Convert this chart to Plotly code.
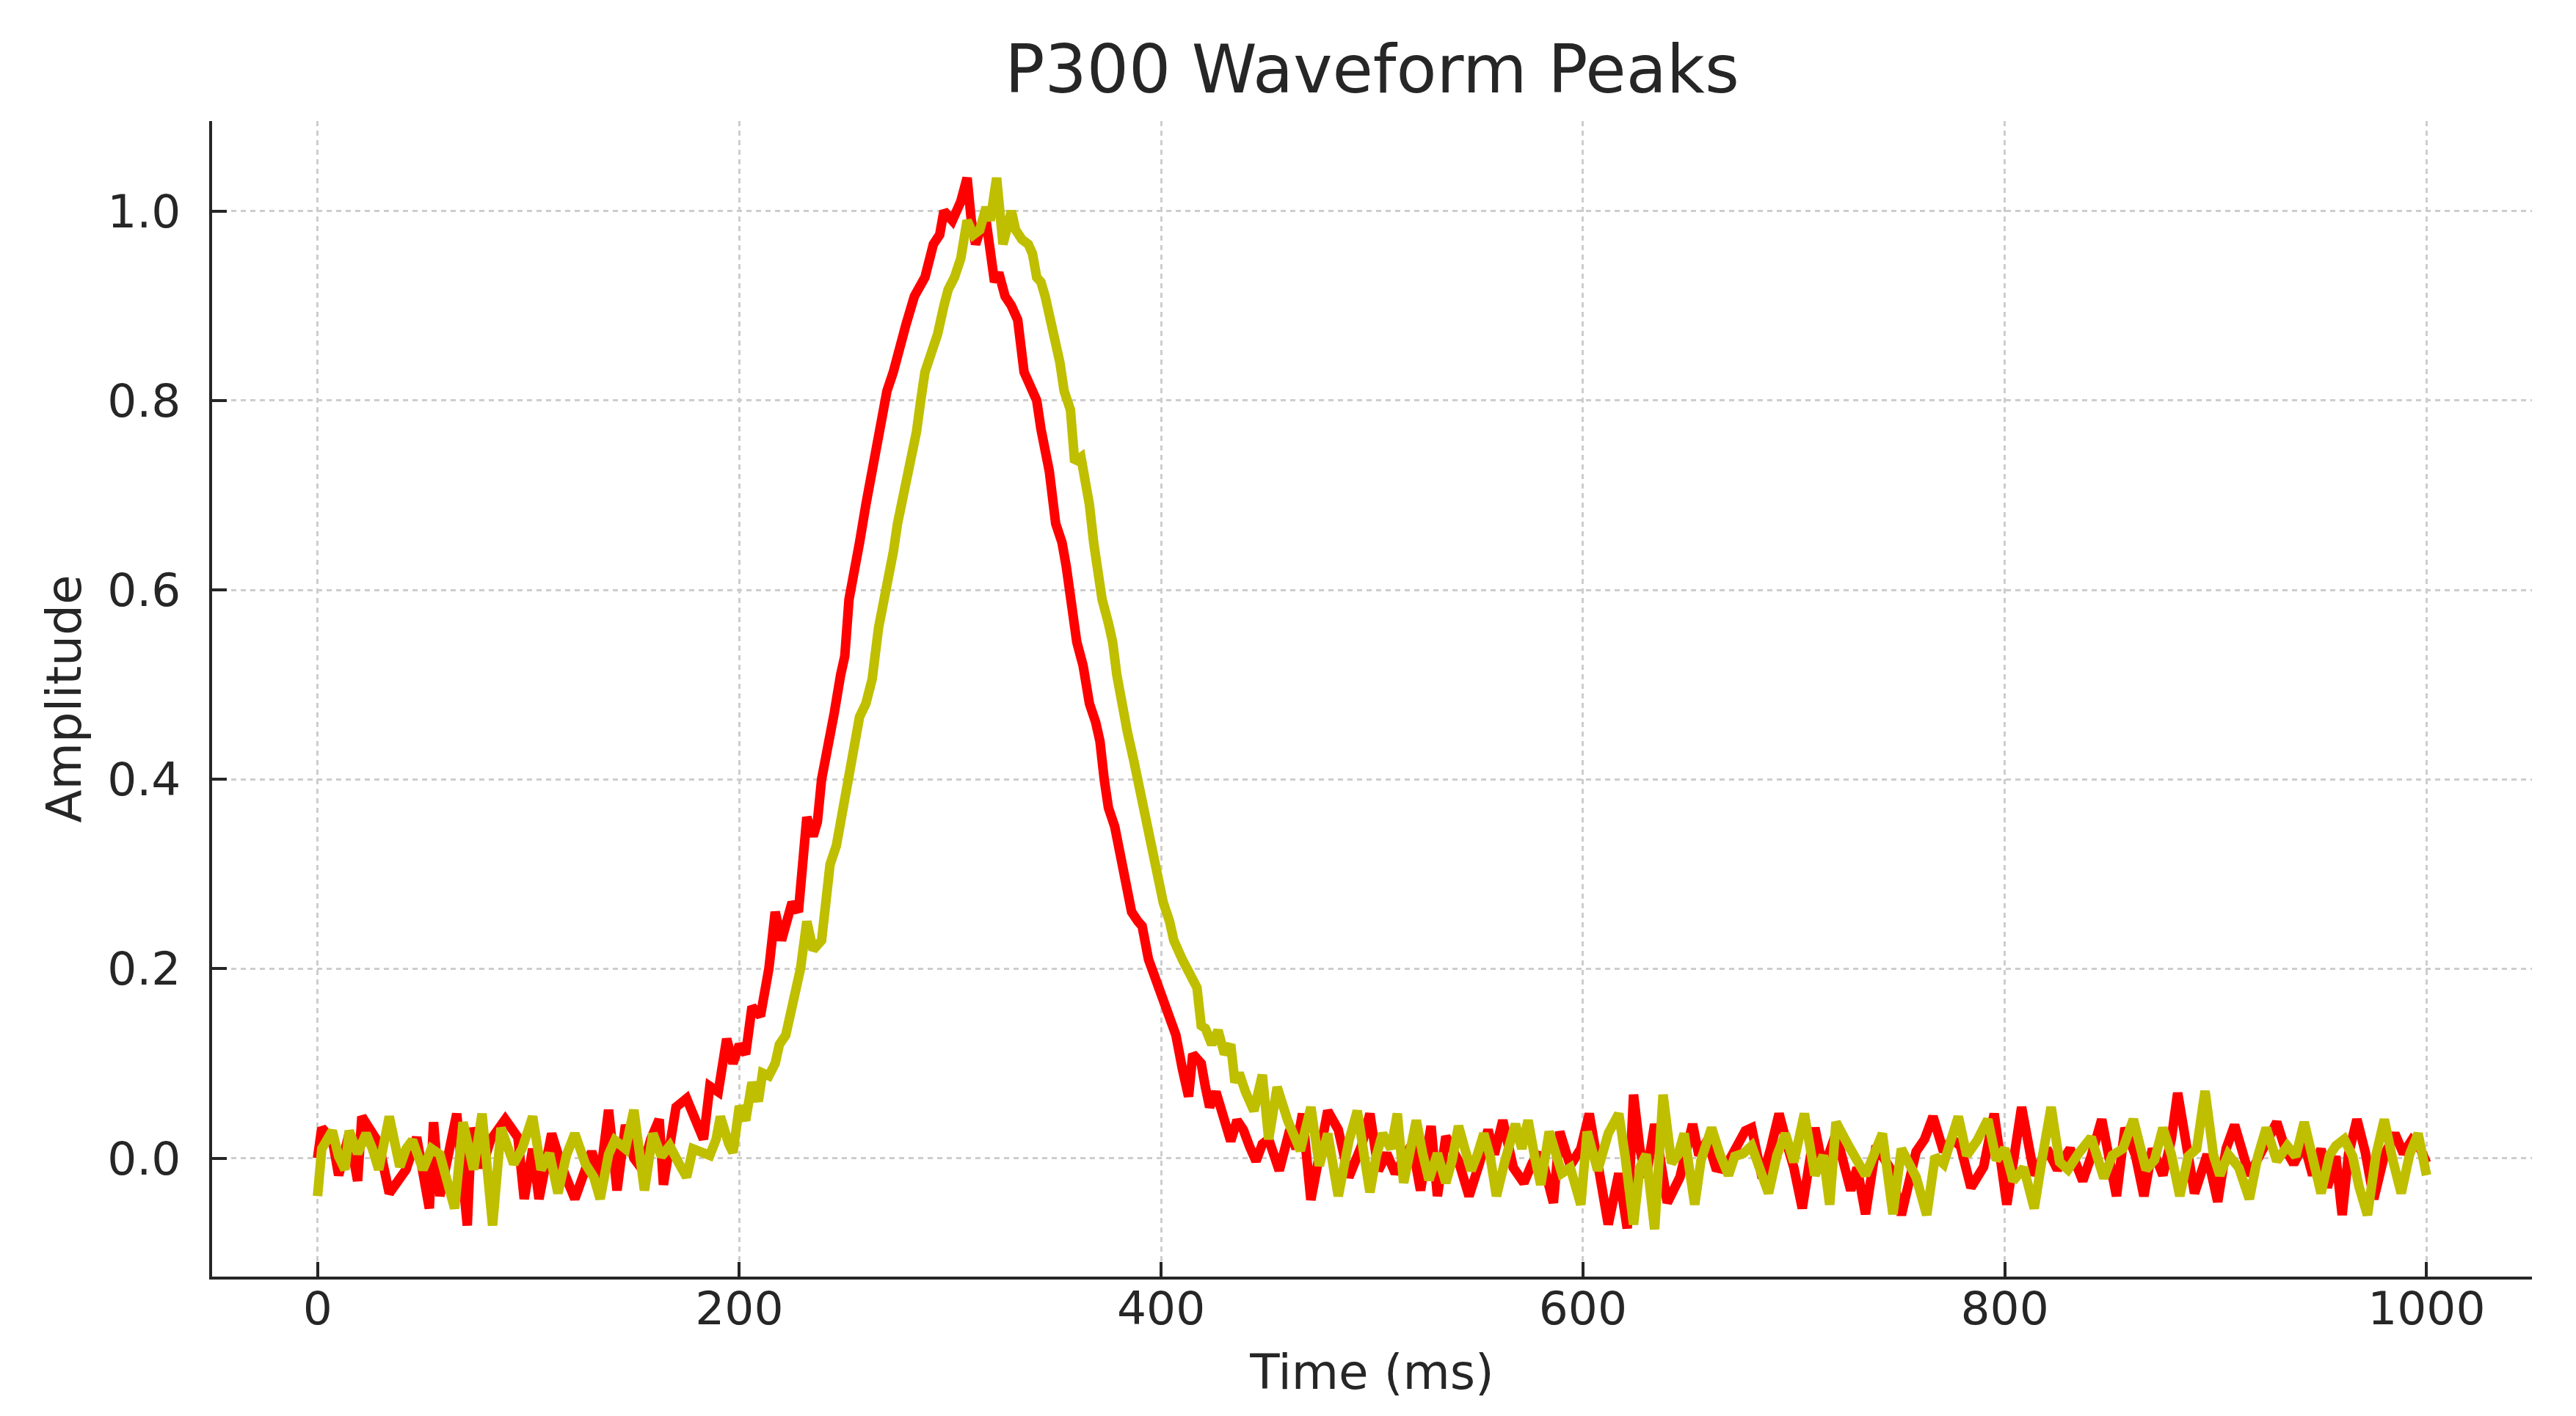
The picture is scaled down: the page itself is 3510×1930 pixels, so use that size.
import plotly.graph_objects as go

# Red waveform (time in ms, amplitude)
red_t = [0, 2, 7, 10, 15, 19, 21, 29, 34, 42,
         47, 53, 55, 58, 66, 71, 73, 78, 82, 89,
         95, 98, 102, 105, 111, 116, 122, 130, 134, 138,
         142, 146, 150, 154, 158, 162, 164, 170, 175, 179,
         183, 186, 190, 194, 197, 200, 203, 206, 210, 214,
         217, 220, 225, 228, 230, 232, 235, 237, 239, 242,
         245, 248, 250, 252, 255, 257, 260, 263, 266, 270,
         273, 275, 279, 283, 288, 292, 295, 297, 301, 305,
         308, 310, 312, 315, 317, 321, 323, 326, 329, 332,
         335, 338, 341, 343, 345, 347, 350, 353, 355, 358,
         360, 363, 366, 369, 371, 373, 375, 378, 381, 384,
         386, 389, 391, 394, 397, 400, 403, 407, 410, 413,
         415, 419, 421, 423, 426, 429, 433, 436, 439, 442,
         445, 448, 451, 456, 461, 464, 467, 471, 475, 479,
         484, 489, 495, 499, 503, 507, 511, 515, 519, 523,
         528, 531, 535, 541, 546, 551, 555, 558, 562, 567,
         572, 576, 580, 586, 589, 594, 599, 603, 608, 612,
         617, 621, 624, 627, 630, 634, 640, 646, 652, 655,
         659, 663, 667, 672, 677, 680, 685, 689, 693, 697,
         700, 704, 710, 714, 720, 727, 730, 734, 739, 746,
         751, 758, 762, 766, 771, 775, 779, 784, 790, 795,
         801, 808, 814, 820, 825, 831, 837, 841, 846, 853,
         857, 862, 866, 870, 875, 879, 882, 886, 890, 896,
         901, 905, 909, 916, 922, 929, 933, 937, 942, 946,
         950, 953, 957, 960, 963, 967, 971, 975, 980, 985,
         989, 993, 997, 1000]
red_v = [0.0, 0.032, 0.02, -0.018, 0.026, -0.024, 0.044, 0.016, -0.037, -0.012,
         0.022, -0.053, 0.038, -0.04, 0.047, -0.071, 0.032, -0.01, 0.019, 0.041,
         0.022, -0.043, 0.01, -0.043, 0.026, -0.01, -0.043, 0.007, -0.02, 0.051,
         -0.034, 0.035, 0.0, -0.012, 0.02, 0.041, -0.028, 0.054, 0.063, 0.04,
         0.02, 0.076, 0.07, 0.126, 0.1, 0.12, 0.11, 0.16, 0.15, 0.2,
         0.26, 0.23, 0.27, 0.26, 0.32, 0.36, 0.34, 0.355, 0.4, 0.43,
         0.47, 0.51, 0.53, 0.59, 0.62, 0.65, 0.69, 0.73, 0.76, 0.81,
         0.83, 0.85, 0.88, 0.91, 0.93, 0.965, 0.975, 1.0, 0.99, 1.01,
         1.035, 0.99, 0.965, 0.985, 0.99, 0.925, 0.935, 0.91, 0.9, 0.885,
         0.83, 0.815, 0.8, 0.77, 0.75, 0.725, 0.67, 0.65, 0.625, 0.58,
         0.545, 0.52, 0.48, 0.46, 0.44, 0.4, 0.37, 0.35, 0.316, 0.28,
         0.26, 0.25, 0.245, 0.21, 0.19, 0.17, 0.15, 0.13, 0.095, 0.065,
         0.11, 0.1, 0.075, 0.054, 0.07, 0.05, 0.018, 0.04, 0.03, 0.012,
         -0.003, 0.015, 0.02, -0.013, 0.03, 0.01, 0.047, -0.044, 0.005, 0.05,
         0.03, -0.02, 0.013, 0.047, -0.013, 0.005, -0.016, 0.002, 0.015, -0.034,
         0.034, -0.04, 0.023, -0.003, -0.04, -0.005, 0.03, 0.004, 0.04, -0.01,
         -0.026, -0.005, 0.005, -0.047, 0.028, -0.008, 0.01, 0.047, -0.016, -0.07,
         -0.016, -0.074, 0.067, 0.01, -0.02, 0.036, -0.047, -0.02, 0.036, 0.003,
         0.019, -0.01, -0.012, 0.01, 0.029, 0.032, -0.021, 0.01, 0.047, 0.013,
         -0.01, -0.053, 0.032, -0.012, 0.026, -0.034, -0.01, -0.059, 0.013, -0.012,
         -0.06, 0.007, 0.02, 0.044, 0.007, 0.02, 0.013, -0.031, -0.009, 0.047,
         -0.049, 0.054, -0.018, 0.01, -0.012, 0.01, -0.024, 0.002, 0.041, -0.04,
         0.032, 0.003, -0.04, 0.01, -0.018, 0.02, 0.069, 0.016, -0.037, 0.004,
         -0.046, 0.01, 0.035, -0.018, 0.01, 0.038, 0.01, -0.006, 0.015, -0.018,
         0.01, -0.031, 0.002, -0.06, 0.004, 0.041, 0.006, -0.043, 0.003, 0.026,
         0.005, 0.019, 0.01, -0.005]

# Yellow waveform (time in ms, amplitude)
yel_t = [0, 2, 7, 10, 13, 15, 19, 23, 26, 29,
         34, 39, 42, 45, 50, 54, 58, 61, 65, 69,
         74, 78, 83, 87, 93, 97, 102, 106, 110, 114,
         118, 122, 127, 131, 134, 138, 141, 146, 150, 155,
         159, 163, 167, 171, 175, 178, 181, 186, 189, 191,
         195, 197, 200, 203, 206, 209, 211, 214, 217, 219,
         222, 226, 229, 232, 235, 239, 241, 243, 246, 248,
         250, 252, 255, 257, 260, 263, 266, 268, 270, 273,
         275, 277, 279, 282, 284, 286, 288, 291, 294, 297,
         299, 302, 305, 308, 311, 314, 317, 319, 322, 325,
         327, 329, 331, 334, 337, 339, 341, 343, 345, 348,
         350, 352, 354, 357, 359, 362, 364, 366, 368, 370,
         372, 375, 377, 379, 381, 384, 387, 390, 392, 394,
         397, 399, 401, 404, 406, 410, 414, 417, 419, 421,
         424, 427, 430, 433, 435, 437, 440, 444, 448, 451,
         455, 460, 466, 468, 471, 475, 479, 484, 489, 493,
         496, 499, 502, 505, 509, 512, 515, 518, 521, 524,
         527, 531, 535, 538, 541, 544, 547, 550, 553, 556,
         559, 563, 568, 571, 574, 577, 580, 584, 587, 590,
         594, 599, 602, 607, 612, 617, 620, 624, 627, 630,
         634, 638, 642, 645, 648, 653, 656, 661, 665, 669,
         672, 676, 680, 684, 688, 692, 696, 700, 705, 710,
         714, 717, 720, 726, 730, 734, 738, 742, 747, 751,
         754, 758, 763, 767, 771, 775, 778, 782, 787, 792,
         796, 800, 804, 809, 814, 818, 822, 826, 830, 835,
         841, 847, 851, 856, 861, 867, 871, 875, 879, 883,
         887, 891, 895, 899, 902, 906, 911, 916, 920, 924,
         929, 934, 938, 942, 946, 950, 954, 957, 961, 965,
         968, 972, 976, 980, 984, 988, 992, 996, 1000]
yel_v = [-0.04, 0.01, 0.029, 0.002, -0.012, 0.029, 0.005, 0.026, 0.01, -0.012,
         0.044, -0.009, 0.01, 0.019, -0.012, 0.01, 0.004, -0.02, -0.053, 0.038,
         -0.012, 0.047, -0.071, 0.032, -0.006, 0.01, 0.044, -0.012, 0.005, -0.037,
         0.003, 0.026, -0.006, -0.02, -0.043, 0.004, 0.019, 0.01, 0.051, -0.034,
         0.026, 0.002, 0.013, -0.004, -0.02, 0.01, 0.007, 0.003, 0.02, 0.044,
         0.015, 0.006, 0.055, 0.04, 0.08, 0.06, 0.09, 0.087, 0.1, 0.12,
         0.13, 0.166, 0.2, 0.25, 0.22, 0.23, 0.27, 0.31, 0.33, 0.355,
         0.37, 0.4, 0.44, 0.466, 0.48, 0.506, 0.56, 0.58, 0.61, 0.64,
         0.67, 0.69, 0.72, 0.74, 0.767, 0.8, 0.83, 0.85, 0.87, 0.9,
         0.917, 0.93, 0.95, 0.99, 0.975, 0.98, 1.004, 0.99, 1.035, 0.965,
         0.985, 1.0, 0.98, 0.97, 0.965, 0.955, 0.93, 0.925, 0.91, 0.885,
         0.86, 0.84, 0.81, 0.79, 0.735, 0.74, 0.72, 0.69, 0.65, 0.62,
         0.59, 0.565, 0.545, 0.51, 0.48, 0.45, 0.42, 0.387, 0.36, 0.34,
         0.31, 0.29, 0.27, 0.25, 0.23, 0.21, 0.19, 0.18, 0.14, 0.137,
         0.12, 0.135, 0.11, 0.12, 0.08, 0.09, 0.07, 0.05, 0.088, 0.02,
         0.075, 0.04, 0.008, 0.03, 0.054, -0.008, 0.026, -0.04, 0.018, 0.05,
         0.004, -0.036, 0.002, 0.026, 0.01, 0.047, -0.026, 0.003, 0.04, 0.005,
         -0.023, 0.005, -0.026, -0.002, 0.034, 0.01, -0.013, 0.004, 0.026, 0.002,
         -0.04, -0.003, 0.036, 0.01, 0.04, 0.003, -0.028, 0.028, 0.004, -0.016,
         -0.01, -0.049, 0.028, -0.013, 0.026, 0.047, 0.002, -0.07, -0.01, 0.004,
         -0.075, 0.067, -0.005, 0.003, 0.026, -0.049, -0.002, 0.032, 0.004, -0.018,
         0.002, 0.005, 0.013, -0.01, -0.037, 0.003, 0.026, -0.004, 0.047, -0.018,
         0.003, -0.049, 0.038, 0.013, -0.002, -0.018, 0.004, 0.026, -0.059, 0.01,
         -0.003, -0.02, -0.06, 0.002, -0.006, 0.02, 0.044, 0.003, 0.019, 0.041,
         -0.002, 0.01, -0.024, -0.01, -0.053, 0.003, 0.054, -0.004, -0.012, 0.005,
         0.022, -0.021, 0.003, 0.01, 0.041, -0.012, -0.002, 0.032, 0.004, -0.04,
         0.002, 0.01, 0.071, 0.003, -0.018, 0.004, -0.01, -0.043, 0.002, 0.032,
         -0.003, 0.013, 0.002, 0.038, -0.004, -0.037, 0.003, 0.013, 0.02, 0.002,
         -0.03, -0.06, 0.003, 0.041, -0.002, -0.037, 0.004, 0.026, -0.018]

x_ticks = [0, 200, 400, 600, 800, 1000]
y_ticks = [0.0, 0.2, 0.4, 0.6, 0.8, 1.0]

fig = go.Figure()
fig.add_trace(go.Scatter(x=red_t, y=red_v, mode='lines',
                         line=dict(color='#ff0000', width=13), name='red'))
fig.add_trace(go.Scatter(x=yel_t, y=yel_v, mode='lines',
                         line=dict(color='#bfbf00', width=13), name='yellow'))

axis_style = dict(
    showgrid=True, gridcolor='#cdcdcd', gridwidth=3, griddash='7px,6px',
    showline=True, linecolor='#262626', linewidth=4,
    ticks='inside', ticklen=20, tickwidth=4, tickcolor='#262626',
    tickfont=dict(size=63, color='#262626'),
    zeroline=False, mirror=False,
)

fig.update_layout(
    width=3510, height=1930,
    font=dict(family='DejaVu Sans', color='#262626'),
    paper_bgcolor='white', plot_bgcolor='white',
    margin=dict(l=281, r=68, t=157, b=198),
    showlegend=False,
    title=dict(text='P300 Waveform Peaks', x=0.5, xref='paper',
               y=1 - 86 / 1930, yref='container', yanchor='middle',
               font=dict(size=90, color='#262626')),
)
fig.update_xaxes(axis_style, range=[-50, 1050], tickvals=x_ticks,
                 ticklabelstandoff=-15,
                 title=dict(text='Time (ms)', font=dict(size=66), standoff=29))
fig.update_yaxes(axis_style, range=[-0.125, 1.095], tickvals=y_ticks,
                 tickformat='.1f', ticklabelstandoff=26,
                 title=dict(text='Amplitude', font=dict(size=66), standoff=15))

fig.write_html("out.html")
